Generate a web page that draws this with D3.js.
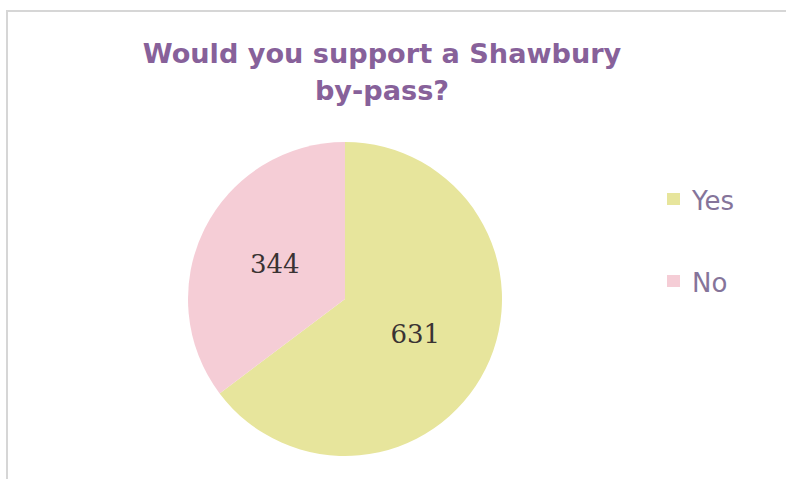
<!DOCTYPE html>
<html>
<head>
<meta charset="utf-8">
<script src="https://cdn.jsdelivr.net/npm/d3@7"></script>
<style>
  html, body { margin: 0; padding: 0; background: #ffffff; }
  svg { display: block; }
</style>
</head>
<body>
<svg id="chart" width="786" height="479"></svg>
<script>
const titleLines = ["Would you support a Shawbury", "by-pass?"];
const categories = ["Yes", "No"];
const values = [631, 344];
const colors = ["#e7e59c", "#f5cdd6"];

const svg = d3.select("#chart");
const W = 786, H = 479;

// frame
svg.append("path")
  .attr("d", `M7,${H} L7,11 L${W},11`)
  .attr("fill", "none")
  .attr("stroke", "#d6d6d6")
  .attr("stroke-width", 2);

// title
const titleG = svg.append("g");
const titleFont = "'DejaVu Sans', Verdana, sans-serif";
const tl = titleG.selectAll("text").data(titleLines).join("text")
  .attr("x", 382)
  .attr("y", (d, i) => 63 + i * 37)
  .attr("text-anchor", "middle")
  .attr("font-family", titleFont)
  .attr("font-weight", "bold")
  .attr("font-size", 26)
  .attr("fill", "#87619a")
  .text(d => d);
const w0 = tl.node().getComputedTextLength();
tl.attr("font-size", 26 * 479 / w0);

// pie
const cx = 345, cy = 299, R = 157;
const color = d3.scaleOrdinal().domain(categories).range(colors);
const data = categories.map((c, i) => ({ cat: c, value: values[i] }));
const pie = d3.pie().sort(null).value(d => d.value);
const arc = d3.arc().innerRadius(0).outerRadius(R);
const arcs = pie(data);

const g = svg.append("g").attr("transform", `translate(${cx},${cy})`);
g.selectAll("path").data(arcs).join("path")
  .attr("d", arc)
  .attr("fill", d => color(d.data.cat));

g.selectAll("text").data(arcs).join("text")
  .attr("transform", d => `translate(${arc.centroid(d)})`)
  .attr("text-anchor", "middle")
  .attr("dy", "0.35em")
  .attr("font-family", "'DejaVu Serif', 'Liberation Serif', serif")
  .attr("font-size", 26)
  .attr("fill", "#3a3333")
  .text(d => d.data.value);

// legend
const legend = svg.append("g").attr("transform", "translate(667,199)");
const li = legend.selectAll("g").data(categories).join("g")
  .attr("transform", (d, i) => `translate(0,${i * 82})`);
li.append("rect")
  .attr("x", 0).attr("y", -6)
  .attr("width", 13).attr("height", 12)
  .attr("fill", d => color(d));
li.append("text")
  .attr("x", 25).attr("y", 11)
  .attr("font-family", "'DejaVu Sans', Verdana, sans-serif")
  .attr("font-size", 26)
  .attr("fill", "#85749a")
  .text(d => d);
</script>
</body>
</html>
